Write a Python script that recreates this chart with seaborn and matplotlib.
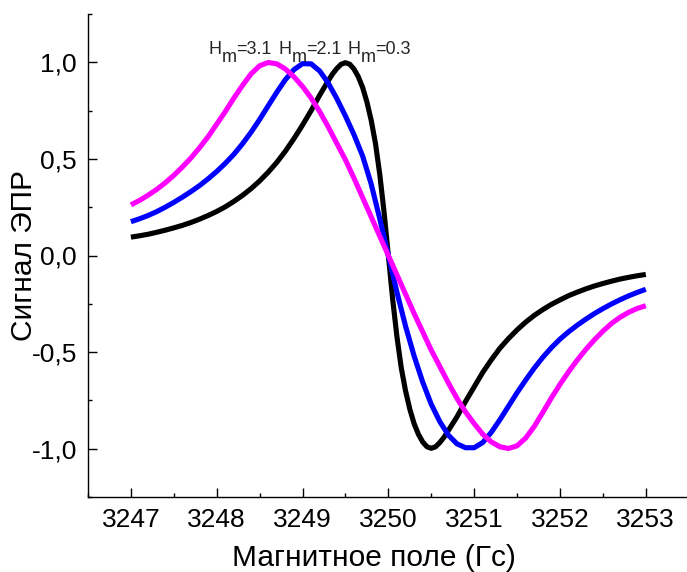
import numpy as np
import pandas as pd
import matplotlib
matplotlib.use("Agg")
import matplotlib.pyplot as plt
import seaborn as sns
from matplotlib.ticker import FixedLocator, MultipleLocator

# ---- data ----
field = [3247.0, 3247.1, 3247.2, 3247.3, 3247.4, 3247.5, 3247.6, 3247.7, 3247.8, 3247.9,
         3248.0, 3248.1, 3248.2, 3248.3, 3248.4, 3248.5, 3248.6, 3248.7, 3248.8, 3248.9,
         3249.0, 3249.1, 3249.2, 3249.3, 3249.4, 3249.5, 3249.6, 3249.7, 3249.8, 3249.9,
         3250.0, 3250.1, 3250.2, 3250.3, 3250.4, 3250.5, 3250.6, 3250.7, 3250.8, 3250.9,
         3251.0, 3251.1, 3251.2, 3251.3, 3251.4, 3251.5, 3251.6, 3251.7, 3251.8, 3251.9,
         3252.0, 3252.1, 3252.2, 3252.3, 3252.4, 3252.5, 3252.6, 3252.7, 3252.8, 3252.9,
         3253.0]

# narrow line (Hm=0.3) is read more densely around its centre
field_hm03 = [3247.0, 3247.1, 3247.2, 3247.3, 3247.4, 3247.5, 3247.6, 3247.7, 3247.8, 3247.9,
              3248.0, 3248.1, 3248.2, 3248.3, 3248.4, 3248.5, 3248.6, 3248.7, 3248.8, 3248.9,
              3249.0, 3249.1, 3249.2, 3249.3, 3249.35, 3249.4, 3249.45, 3249.5, 3249.55,
              3249.6, 3249.65, 3249.7, 3249.75, 3249.8, 3249.85, 3249.9, 3249.95, 3250.0,
              3250.05, 3250.1, 3250.15, 3250.2, 3250.25, 3250.3, 3250.35, 3250.4, 3250.45,
              3250.5, 3250.55, 3250.6, 3250.65, 3250.7, 3250.8, 3250.9,
              3251.0, 3251.1, 3251.2, 3251.3, 3251.4, 3251.5, 3251.6, 3251.7, 3251.8, 3251.9,
              3252.0, 3252.1, 3252.2, 3252.3, 3252.4, 3252.5, 3252.6, 3252.7, 3252.8, 3252.9,
              3253.0]
signal_hm03 = [0.095, 0.102, 0.110, 0.120, 0.131, 0.143, 0.156, 0.171, 0.188, 0.207,
               0.228, 0.252, 0.280, 0.311, 0.346, 0.386, 0.431, 0.482, 0.540, 0.605,
               0.675, 0.750, 0.830, 0.905, 0.940, 0.968, 0.990, 0.998, 0.990,
               0.965, 0.925, 0.870, 0.795, 0.700, 0.580, 0.420, 0.225, 0.000,
               -0.225, -0.420, -0.580, -0.700, -0.795, -0.870, -0.925, -0.965, -0.990,
               -0.998, -0.990, -0.968, -0.940, -0.905, -0.835, -0.755,
               -0.680, -0.605, -0.540, -0.480, -0.430, -0.385, -0.345, -0.310, -0.280, -0.253,
               -0.230, -0.208, -0.190, -0.173, -0.158, -0.145, -0.133, -0.122, -0.113, -0.105,
               -0.098]

signal_hm21 = [0.175, 0.190, 0.207, 0.227, 0.250, 0.275, 0.302, 0.331, 0.362, 0.397,
               0.435, 0.477, 0.524, 0.578, 0.638, 0.704, 0.775, 0.845, 0.910, 0.962,
               0.993, 0.992, 0.955, 0.892, 0.812, 0.722, 0.625, 0.515, 0.370, 0.190,
               0.000, -0.190, -0.365, -0.520, -0.655, -0.770, -0.860, -0.930, -0.975, -0.995,
               -0.995, -0.968, -0.915, -0.850, -0.780, -0.710, -0.645, -0.583, -0.527, -0.477,
               -0.433, -0.395, -0.361, -0.330, -0.301, -0.275, -0.251, -0.229, -0.209, -0.191,
               -0.175]

signal_hm31 = [0.262, 0.285, 0.312, 0.342, 0.376, 0.415, 0.458, 0.505, 0.558, 0.615,
               0.680, 0.745, 0.815, 0.880, 0.940, 0.982, 0.999, 0.992, 0.965, 0.925,
               0.875, 0.815, 0.745, 0.665, 0.580, 0.495, 0.400, 0.300, 0.200, 0.100,
               0.000, -0.100, -0.200, -0.300, -0.395, -0.490, -0.575, -0.660, -0.740, -0.810,
               -0.870, -0.925, -0.965, -0.990, -0.999, -0.985, -0.945, -0.885, -0.812, -0.737,
               -0.667, -0.602, -0.542, -0.487, -0.437, -0.392, -0.352, -0.320, -0.294, -0.274,
               -0.260]

series_names = ["Hm=0.3", "Hm=2.1", "Hm=3.1"]
series_colors = ["#000000", "#0000FF", "#FF00FF"]

x_ticks = [3247, 3248, 3249, 3250, 3251, 3252, 3253]
y_ticks = [-1.0, -0.5, 0.0, 0.5, 1.0]
y_tick_labels = ["-1,0", "-0,5", "0,0", "0,5", "1,0"]

# ---- build long table ----
frames = []
for name, xs, vals in zip(series_names, [field_hm03, field, field],
                          [signal_hm03, signal_hm21, signal_hm31]):
    frames.append(pd.DataFrame({"field": xs, "signal": vals, "series": name}))
df = pd.concat(frames, ignore_index=True)

sns.set_style("ticks")
plt.rcParams["font.family"] = ["Liberation Sans", "DejaVu Sans"]

fig = plt.figure(figsize=(6.87, 5.72), dpi=100)
ax = fig.add_axes([88 / 687, 1 - 497 / 572, 600.7 / 687, 483 / 572])

sns.lineplot(data=df, x="field", y="signal", hue="series",
             hue_order=series_names, palette=series_colors,
             linewidth=3.7, legend=False, ax=ax, sort=False)
for ln in ax.get_lines():
    ln.set_solid_capstyle("butt")
    ln.set_solid_joinstyle("round")

ax.set_xlim(3246.5, 3253.5)
ax.set_ylim(-1.25, 1.25)

ax.xaxis.set_major_locator(FixedLocator(x_ticks))
ax.xaxis.set_minor_locator(MultipleLocator(0.5))
ax.set_xticklabels([str(t) for t in x_ticks])
ax.yaxis.set_major_locator(FixedLocator(y_ticks))
ax.yaxis.set_minor_locator(MultipleLocator(0.25))
ax.set_yticklabels(y_tick_labels)

ax.tick_params(axis="both", which="major", direction="in", length=6.5, width=1.0,
               labelsize=19, color="black", labelcolor="black")
ax.tick_params(axis="both", which="minor", direction="in", length=3.2, width=1.0,
               color="black")
ax.tick_params(axis="x", which="major", pad=8)
ax.tick_params(axis="y", which="major", pad=8)

for s in ["top", "right"]:
    ax.spines[s].set_visible(False)
for s in ["left", "bottom"]:
    ax.spines[s].set_linewidth(1.0)
    ax.spines[s].set_color("black")

ax.set_xlabel("Магнитное поле (Гс)", fontsize=21.5, color="black")
ax.xaxis.set_label_coords(0.476, -0.098)
ax.set_ylabel("Сигнал ЭПР", fontsize=21.5, color="black")
ax.yaxis.set_label_coords(-0.083, 0.5)

# annotations: H with full-size lowered "m"
ann_fs = 13
labels = [("3.1", 3247.90), ("2.1", 3248.72), ("0.3", 3249.52)]
for val, xpos in labels:
    base_y = 1.045
    ax.annotate("H", xy=(xpos, base_y), xycoords="data", fontsize=ann_fs,
                ha="left", va="baseline", annotation_clip=False)
    ax.annotate("m", xy=(xpos, base_y), xycoords="data", xytext=(9.6, -6),
                textcoords="offset points", fontsize=ann_fs,
                ha="left", va="baseline", annotation_clip=False)
    ax.annotate("=" + val, xy=(xpos, base_y), xycoords="data", xytext=(19.8, 0),
                textcoords="offset points", fontsize=ann_fs,
                ha="left", va="baseline", annotation_clip=False)

fig.savefig("out.png", dpi=100)
